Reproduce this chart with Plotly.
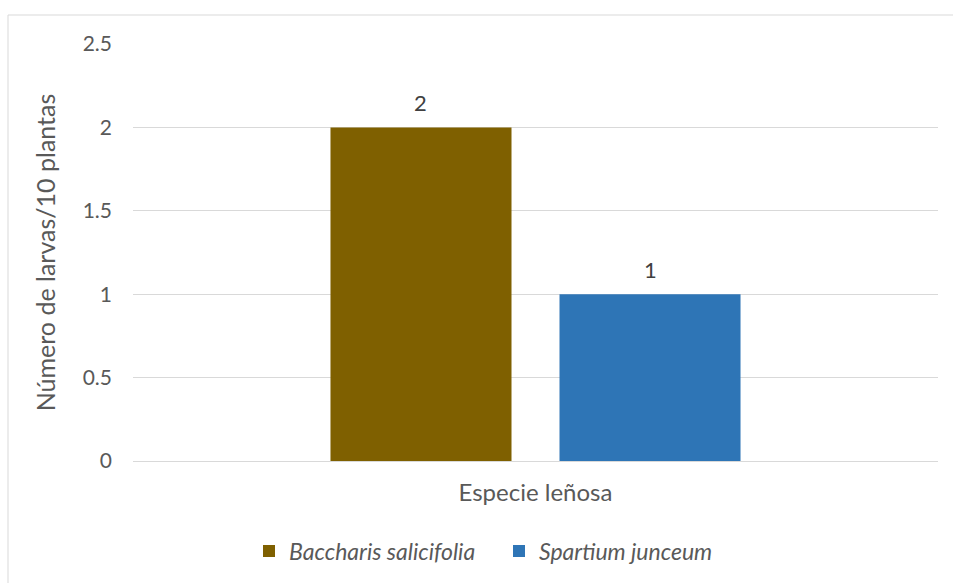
import plotly.graph_objects as go

categories = ["Especie leñosa"]
series_names = ["Baccharis salicifolia", "Spartium junceum"]
series_values = [[2], [1]]
series_colors = ["#7F6000", "#2E75B6"]
y_ticks = [0, 0.5, 1, 1.5, 2, 2.5]
y_tick_labels = ["0", "0.5", "1", "1.5", "2", "2.5"]

FONT = "Lato"
GRAY = "#595959"

W, H = 953, 583
L, R, T, B = 133, 15, 44, 122
pw, ph = W - L - R, H - T - B
BARGAP, BARGROUPGAP = 0.431, 0.2096

def px_x(p):
    return (p - L) / pw

def px_y(p):
    return (H - B - p) / ph

fig = go.Figure()
for name, vals, col in zip(series_names, series_values, series_colors):
    fig.add_trace(go.Bar(
        x=categories, y=vals, name=f"<i>{name}</i>",
        marker=dict(color=col, line=dict(width=0)),
    ))

# data labels above each bar (offset within the group computed from bar gaps)
n = len(series_names)
slot = pw * (1 - BARGAP) / n
for i, vals in enumerate(series_values):
    off = (i - (n - 1) / 2) * slot
    for c, v in zip(categories, vals):
        fig.add_annotation(x=c, y=v, text=str(v), showarrow=False,
                           xshift=off, yshift=25, yanchor="middle",
                           font=dict(family=FONT, size=22, color="#404040"))

fig.update_layout(
    width=W, height=H,
    margin=dict(l=L, r=R, t=T, b=B),
    plot_bgcolor="white", paper_bgcolor="white",
    barmode="group", bargap=BARGAP, bargroupgap=BARGROUPGAP,
    font=dict(family=FONT, size=21, color=GRAY),
    showlegend=True,
    legend=dict(orientation="h", xref="container", yref="container",
                x=249 / W, xanchor="left",
                y=1 - 551 / H, yanchor="middle",
                font=dict(family=FONT, size=23, color=GRAY),
                itemwidth=30, entrywidth=205, traceorder="normal"),
    xaxis=dict(showgrid=False, showline=False, ticks="", showticklabels=False,
               automargin=False,
               title=dict(text=categories[0], standoff=23,
                          font=dict(family=FONT, size=24, color=GRAY))),
    yaxis=dict(range=[0, 2.5], tickvals=y_ticks, ticktext=y_tick_labels,
               automargin=False,
               showgrid=True, gridcolor="#D9D9D9", gridwidth=1,
               zeroline=True, zerolinecolor="#D9D9D9", zerolinewidth=1,
               showline=False, ticks="", ticklen=0, ticklabelstandoff=20,
               tickfont=dict(family=FONT, size=21, color=GRAY),
               title=dict(text="Número de larvas/10 plantas", standoff=19,
                          font=dict(family=FONT, size=25, color=GRAY))),
)
fig.add_shape(type="rect", xref="paper", yref="paper",
              x0=px_x(8), x1=px_x(960), y0=px_y(590), y1=px_y(15),
              line=dict(color="#D9D9D9", width=1), fillcolor="rgba(0,0,0,0)",
              layer="below")

fig.write_html("out.html")
